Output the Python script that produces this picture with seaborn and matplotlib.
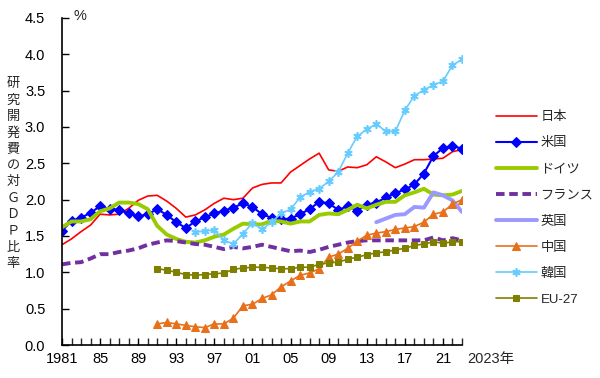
#!/usr/bin/env python3
"""R&D expenditure to GDP ratio by country, 1981-2023."""

import matplotlib
matplotlib.use("Agg")
import matplotlib.pyplot as plt
from matplotlib.ticker import MultipleLocator, FixedLocator
import numpy as np
import pandas as pd
import seaborn as sns

# ---- data ----
years_all = list(range(1981, 2024))
years_91 = list(range(1991, 2024))
years_95 = list(range(1995, 2024))
years_uk = list(range(2014, 2024))

japan = [1.38, 1.46, 1.56, 1.65, 1.80, 1.79, 1.80, 1.88, 1.99, 2.05,
         2.06, 1.98, 1.88, 1.76, 1.79, 1.86, 1.95, 2.02, 2.00, 2.02,
         2.16, 2.21, 2.23, 2.23, 2.38, 2.47, 2.56, 2.64, 2.41, 2.39,
         2.45, 2.44, 2.48, 2.59, 2.52, 2.44, 2.49, 2.55, 2.55, 2.56,
         2.57, 2.66, 2.69]
usa = [1.57, 1.71, 1.75, 1.82, 1.91, 1.87, 1.86, 1.81, 1.77, 1.80,
       1.87, 1.79, 1.69, 1.61, 1.70, 1.76, 1.81, 1.85, 1.89, 1.95,
       1.90, 1.80, 1.75, 1.73, 1.74, 1.80, 1.87, 1.97, 1.95, 1.86,
       1.91, 1.85, 1.93, 1.96, 2.03, 2.09, 2.14, 2.21, 2.36, 2.60,
       2.71, 2.74, 2.70]
germany = [1.62, 1.70, 1.70, 1.73, 1.84, 1.88, 1.96, 1.96, 1.94, 1.87,
           1.64, 1.52, 1.46, 1.42, 1.41, 1.44, 1.49, 1.52, 1.60, 1.67,
           1.66, 1.66, 1.71, 1.70, 1.67, 1.70, 1.70, 1.79, 1.81, 1.80,
           1.86, 1.93, 1.88, 1.93, 1.97, 1.97, 2.06, 2.10, 2.15, 2.07,
           2.06, 2.07, 2.12]
france = [1.11, 1.13, 1.14, 1.19, 1.25, 1.25, 1.28, 1.30, 1.33, 1.38,
          1.41, 1.44, 1.43, 1.41, 1.39, 1.38, 1.35, 1.32, 1.35, 1.33,
          1.35, 1.38, 1.35, 1.32, 1.29, 1.30, 1.28, 1.31, 1.35, 1.38,
          1.41, 1.43, 1.44, 1.44, 1.44, 1.44, 1.44, 1.44, 1.44, 1.48,
          1.44, 1.47, 1.44]
uk = [1.69, 1.74, 1.79, 1.80, 1.90, 1.89, 2.10, 2.06, 1.99, 1.83]
china = [0.29, 0.31, 0.29, 0.27, 0.25, 0.24, 0.29, 0.29, 0.37, 0.54,
         0.56, 0.64, 0.69, 0.80, 0.88, 0.96, 0.99, 1.05, 1.21, 1.25,
         1.33, 1.43, 1.51, 1.54, 1.56, 1.59, 1.61, 1.63, 1.69, 1.80,
         1.83, 1.94, 2.00]
korea = [1.55, 1.57, 1.58, 1.44, 1.39, 1.53, 1.68, 1.59, 1.69, 1.81,
         1.87, 2.03, 2.11, 2.15, 2.25, 2.38, 2.64, 2.87, 2.97, 3.04,
         2.94, 2.94, 3.23, 3.43, 3.51, 3.58, 3.63, 3.85, 3.93]
eu27 = [1.05, 1.03, 1.00, 0.97, 0.96, 0.97, 0.98, 0.99, 1.04, 1.06,
        1.07, 1.07, 1.06, 1.05, 1.05, 1.07, 1.07, 1.11, 1.13, 1.14,
        1.18, 1.21, 1.24, 1.27, 1.28, 1.31, 1.33, 1.37, 1.39, 1.42,
        1.40, 1.42, 1.42]

major_years = list(range(1981, 2022, 4))
major_labels = ["1981", "85", "89", "93", "97", "01", "05", "09", "13", "17", "21"]
ylabel_text = "研究開発費の対ＧＤＰ比率"

# label, years, values, style
series = [
    ("日本", years_all, japan, dict(color="#FF0000", lw=1.2)),
    ("米国", years_all, usa, dict(color="#0000FF", lw=1.5, marker="D", ms=5.2)),
    ("ドイツ", years_all, germany, dict(color="#99CC00", lw=2.8)),
    ("フランス", years_all, france, dict(color="#7030A0", lw=2.8, dashes=(2.2, 1.2))),
    ("英国", years_uk, uk, dict(color="#9999FF", lw=2.8)),
    ("中国", years_91, china, dict(color="#E8701A", lw=1.2, marker="^", ms=5.2)),
    ("韓国", years_95, korea, dict(color="#66CCFF", lw=1.2, marker=(6, 2, 0), ms=6, mew=1.2)),
    ("EU-27", years_91, eu27, dict(color="#808000", lw=1.2, marker="s", ms=4.8)),
]


def main() -> None:
    sns.set_theme(style="white")
    plt.rcParams["font.family"] = ["Liberation Sans", "Noto Sans CJK JP", "DejaVu Sans"]

    fig = plt.figure(figsize=(6.0, 3.78), dpi=100)
    ax = fig.add_axes([0.1033, 0.0873, 0.6667, 0.8651])

    handles = []
    for label, yrs, vals, style in series:
        df = pd.DataFrame({"year": yrs, "value": vals})
        style = dict(style)
        dashes = style.pop("dashes", None)
        sns.lineplot(data=df, x="year", y="value", ax=ax, label=label,
                     markeredgecolor=style["color"], **style)
        line = ax.get_lines()[-1]
        if dashes is not None:
            line.set_dashes(dashes)
        handles.append(line)
    ax.get_legend().remove()

    ax.set_xlim(1981, 2023)
    ax.set_ylim(0, 4.5)
    ax.yaxis.set_major_locator(MultipleLocator(0.5))
    ax.yaxis.set_major_formatter(plt.FuncFormatter(lambda v, _: f"{v:.1f}"))
    ax.xaxis.set_major_locator(FixedLocator(major_years))
    ax.set_xticklabels(major_labels)
    ax.xaxis.set_minor_locator(MultipleLocator(1))
    ax.set_xlabel("")
    ax.set_ylabel("")

    for side in ("top", "right"):
        ax.spines[side].set_visible(False)
    for side in ("left", "bottom"):
        ax.spines[side].set_color("black")
        ax.spines[side].set_linewidth(1.2)

    ax.tick_params(axis="x", which="major", direction="in", length=5, width=1,
                   pad=5, labelsize=10.5, colors="black", bottom=True)
    ax.tick_params(axis="x", which="minor", direction="in", length=5, width=1,
                   bottom=True)
    ax.tick_params(axis="y", which="major", direction="in", length=5, width=1,
                   pad=12, labelsize=10.5, colors="black", left=True)

    ax.annotate("2023年", xy=(2023, 0), xycoords="data", xytext=(4, -5),
                textcoords="offset points", ha="left", va="top", fontsize=10.5)
    fig.text(74 / 600, 1 - 16 / 378, "%", fontsize=10.5, va="center", ha="left")

    for i, ch in enumerate(ylabel_text):
        fig.text(13 / 600, 1 - (84 + i * 16.4) / 378, ch, fontsize=9.5,
                 ha="center", va="center")

    fig.legend(handles=handles, labels=[s[0] for s in series],
               loc="upper left", bbox_to_anchor=(0.826, 0.706),
               frameon=False, fontsize=9.5, handlelength=3.1, handletextpad=0.3,
               labelspacing=1.05, borderpad=0, borderaxespad=0)

    fig.savefig("out.png", dpi=100)
    plt.close(fig)


if __name__ == "__main__":
    main()
